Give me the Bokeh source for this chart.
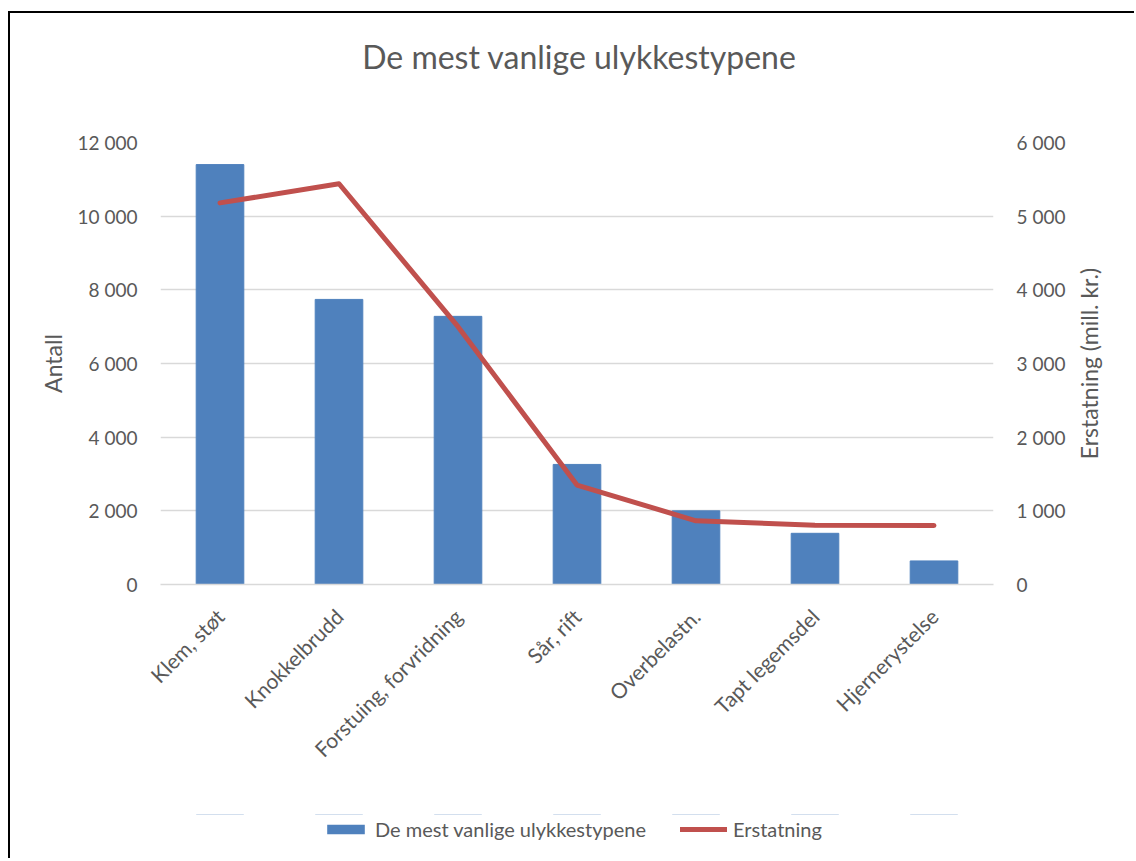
import math
from bokeh.plotting import figure
from bokeh.layouts import column
from bokeh.models import (FactorRange, Range1d, LinearAxis, FixedTicker, Legend,
                          LegendItem, ColumnDataSource, Div, Label)
from bokeh.embed import file_html
from bokeh.resources import INLINE

# ---- data ----
categories = ["Klem, støt", "Knokkelbrudd", "Forstuing, forvridning", "Sår, rift",
              "Overbelastn.", "Tapt legemsdel", "Hjernerystelse"]
antall = [11400, 7740, 7280, 3260, 2000, 1390, 640]
erstatning = [5180, 5440, 3500, 1350, 865, 805, 800]
left_ticks = [0, 2000, 4000, 6000, 8000, 10000, 12000]
left_tick_labels = ["0", "2 000", "4 000", "6 000", "8 000", "10 000", "12 000"]
right_ticks = [0, 1000, 2000, 3000, 4000, 5000, 6000]
right_tick_labels = ["0", "1 000", "2 000", "3 000", "4 000", "5 000", "6 000"]

title_text = "De mest vanlige ulykkestypene"
left_title = "Antall"
right_title = "Erstatning (mill. kr.)"
bar_name = "De mest vanlige ulykkestypene"
line_name = "Erstatning"

FONT = "Lato"
TXT = "#595959"
BLUE = "#4F81BD"
RED = "#C0504D"

src = ColumnDataSource(dict(cat=categories, antall=antall, erst=erstatning))

# ---- title strip ----
title_div = Div(text=title_text, width=1126, height=88, margin=(11, 0, 0, 8),
                styles={"border-top": "2px solid #000", "border-left": "2px solid #000",
                        "font-family": FONT, "font-size": "32px", "color": TXT,
                        "text-align": "center", "line-height": "88px",
                        "text-indent": "14px", "white-space": "nowrap"})

# ---- main chart ----
p = figure(x_range=FactorRange(*categories, range_padding=0), y_range=Range1d(0, 12000),
           width=1118, height=715, output_backend="svg", toolbar_location=None,
           min_border_left=150, min_border_right=135, min_border_top=43,
           min_border_bottom=230, outline_line_color=None,
           styles={"border-left": "2px solid #000"}, margin=(0, 0, 0, 8))
p.extra_y_ranges = {"right": Range1d(0, 6000)}

bars = p.vbar(x="cat", top="antall", width=0.4, source=src, fill_color=BLUE,
              line_color=BLUE)
line = p.line(x="cat", y="erst", source=src, y_range_name="right", line_color=RED,
              line_width=5, line_join="round", line_cap="round")

ya = p.yaxis[0]
ya.ticker = FixedTicker(ticks=left_ticks)
ya.major_label_overrides = {t: l for t, l in zip(left_ticks, left_tick_labels)}
ya.axis_label = left_title

ra = LinearAxis(y_range_name="right", ticker=FixedTicker(ticks=right_ticks))
ra.major_label_overrides = {t: l for t, l in zip(right_ticks, right_tick_labels)}
p.add_layout(ra, "right")

for ax in (ya, ra):
    ax.axis_line_color = None
    ax.major_tick_line_color = None
    ax.minor_tick_line_color = None
    ax.major_label_text_font = FONT
    ax.major_label_text_font_size = "19px"
    ax.major_label_text_color = TXT
    ax.axis_label_text_font = FONT
    ax.axis_label_text_font_size = "23px"
    ax.axis_label_text_color = TXT
    ax.axis_label_text_font_style = "normal"
ya.major_label_standoff = 17
ra.major_label_standoff = 17
ya.axis_label_standoff = 8

# right-hand axis title, reading bottom-to-top like the reference
p.add_layout(Label(x=7.80, y=6000, text=right_title, angle=math.pi / 2,
                   text_align="center", text_baseline="middle", text_font=FONT,
                   text_font_size="23px", text_color=TXT), "right")

xa = p.xaxis[0]
xa.axis_line_color = "#D9D9D9"
xa.axis_line_width = 1.5
xa.major_tick_line_color = None
xa.minor_tick_line_color = None
xa.major_label_orientation = math.pi / 4
xa.major_label_text_font = FONT
xa.major_label_text_font_size = "21px"
xa.major_label_text_color = TXT
xa.major_label_standoff = 22

p.xgrid.grid_line_color = None
p.ygrid.grid_line_color = "#D9D9D9"
p.ygrid.grid_line_width = 1.5

# ---- legend strip under the chart (its proxy glyphs are zero-height, out of view) ----
q = figure(width=1118, height=44, x_range=p.x_range, y_range=Range1d(-100001, -100000),
           output_backend="svg", toolbar_location=None, x_axis_location=None,
           y_axis_location=None, min_border=0, outline_line_color=None,
           styles={"border-left": "2px solid #000"}, margin=(0, 0, 0, 8))
q.grid.visible = False
lb = q.vbar(x="cat", top="antall", bottom="antall", width=0.4, source=src,
            fill_color=BLUE, line_color=None)
ll = q.line(x="cat", y="erst", source=src, line_color=RED, line_width=5,
            line_cap="round")

legend = Legend(items=[LegendItem(label=bar_name, renderers=[lb]),
                       LegendItem(label=line_name, renderers=[ll])],
                orientation="horizontal", location=(162, 17), padding=0, margin=0,
                spacing=34, label_standoff=6, glyph_width=47, glyph_height=12,
                label_text_font=FONT, label_text_font_size="20px",
                label_text_color=TXT, border_line_color=None,
                background_fill_alpha=0)
q.add_layout(legend, "center")

layout = column(title_div, p, q, spacing=0)
open("out.html", "w").write(file_html(layout, INLINE))
